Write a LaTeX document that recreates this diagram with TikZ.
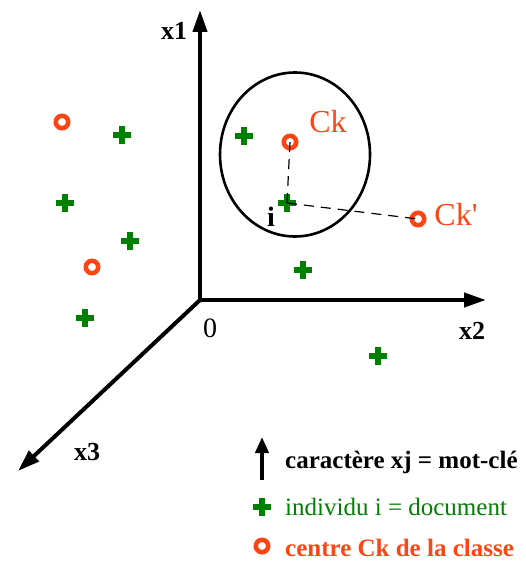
\documentclass[tikz,border=0pt]{standalone}
\usepackage{fontspec}
\setmainfont{Liberation Serif}
\usetikzlibrary{arrows.meta}
\definecolor{cred}{RGB}{255,69,20}
\definecolor{cgreen}{RGB}{0,128,0}
\tikzset{
  axis/.style={line width=4pt,-{Triangle[length=22pt,width=14pt]}},
  lbl/.style={font=\fontsize{26}{26}\selectfont\bfseries,inner sep=0pt},
  dashline/.style={line width=1.2pt,dash pattern=on 10pt off 7pt},
  gx/.style={cgreen,line width=6pt},
  rc/.style={cred,line width=4.6pt},
  leg/.style={font=\fontsize{25}{25}\selectfont,anchor=west,inner sep=0pt}
}
\begin{document}
\begin{tikzpicture}[x=1pt,y=-1pt]
\useasboundingbox (0,0) rectangle (525,561);
\coordinate (O) at (200,300);
\coordinate (X1) at (200,10);
\coordinate (X2) at (486,300);
\coordinate (X3) at (18,471);
\draw[axis] (O) -- (X1);
\draw[axis] (O) -- (X2);
\draw[axis] (O) -- (X3);
\node[lbl] (l1) at (174,31) {x1};
\node[lbl] (l2) at (472,331) {x2};
\node[lbl] (l3) at (87,452) {x3};
\node[font=\fontsize{28}{28}\selectfont,inner sep=0pt] (l0) at (210,328) {0};
\draw[line width=2.6pt] (295,154.5) ellipse [x radius=75, y radius=82];
\coordinate (i) at (287,203);
\coordinate (ck) at (290,142);
\coordinate (ckp) at (418,219);
\foreach \x/\y in {122/135,65/203,130/241,85/318,244/136,287/203,303/270,378/356,262/507}{
  \draw[gx] (\x-9,\y) -- (\x+9,\y) (\x,\y-9) -- (\x,\y+9);
}
\foreach \x/\y in {62/122,92/267,290/142,418/219,262/546}{
  \draw[rc] (\x,\y) circle (6.2);
}
\draw[dashline] (i) -- (ck);
\draw[dashline] (i) -- (ckp);
\node[text=cred,font=\fontsize{32}{32}\selectfont,inner sep=0pt] (ckl) at (328,122) {Ck};
\node[text=cred,font=\fontsize{32}{32}\selectfont,inner sep=0pt] (ckpl) at (456,215) {Ck\textquotesingle};
\node[font=\fontsize{28}{28}\selectfont\bfseries,inner sep=0pt] (il) at (271,217) {i};
\coordinate (la1) at (262,480);
\coordinate (la2) at (262,437);
\draw[line width=4.5pt,-{Triangle[length=16pt,width=13pt]}] (la1) -- (la2);
\node[leg,font=\fontsize{25}{25}\selectfont\bfseries] (t1) at (285,462) {caractère xj = mot-clé};
\node[leg,text=cgreen] (t2) at (285,507) {individu i = document};
\node[leg,text=cred,font=\fontsize{25}{25}\selectfont\bfseries] (t3) at (285,548) {centre Ck de la classe};
\end{tikzpicture}
\end{document}
